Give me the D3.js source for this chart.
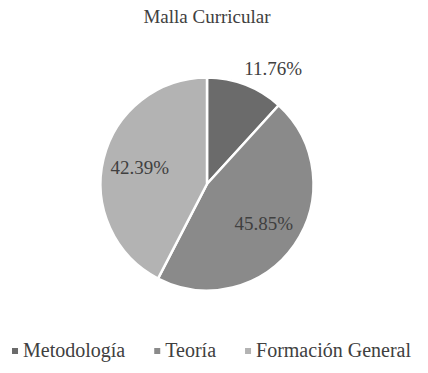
<!DOCTYPE html>
<html>
<head>
<meta charset="utf-8">
<script src="https://cdn.jsdelivr.net/npm/d3@7"></script>
</head>
<body style="margin:0;background:#fff">
<div id="chart"></div>
<script>
// Chart data
var title = "Malla Curricular";
var categories = ["Metodología", "Teoría", "Formación General"];
var values = [11.76, 45.85, 42.39];
var colors = ["#6b6b6b", "#8a8a8a", "#b3b3b3"];

var width = 428, height = 373;
var cx = 207, cy = 184, radius = 106.5;
var font = "'Liberation Serif', 'Times New Roman', serif";

document.fonts.ready.then(draw);

function draw() {
    var svg = d3.select("#chart").append("svg")
        .attr("width", width)
        .attr("height", height)
        .style("font-family", font);

    // title
    svg.append("text")
        .attr("x", 207)
        .attr("y", 23)
        .attr("text-anchor", "middle")
        .style("font-family", font)
        .attr("font-size", 19)
        .attr("fill", "#404040")
        .text(title);

    var pie = d3.pie().sort(null)(values);
    var arc = d3.arc().innerRadius(0).outerRadius(radius);
    var labelArc = d3.arc().innerRadius(radius * 0.65).outerRadius(radius * 0.65);

    var g = svg.append("g").attr("transform", "translate(" + cx + "," + cy + ")");

    g.selectAll("path")
        .data(pie)
        .enter().append("path")
        .attr("d", arc)
        .attr("fill", (d, i) => colors[i])
        .attr("stroke", "#fff")
        .attr("stroke-width", 2.5);

    // data labels: small slice gets label outside
    g.selectAll("text.lbl")
        .data(pie)
        .enter().append("text")
        .attr("class", "lbl")
        .attr("transform", d => {
            var c;
            if (d.data < 20) {
                var a = (d.startAngle + d.endAngle) / 2;
                c = [Math.sin(a) * radius * 1.15 + 22, -Math.cos(a) * radius * 1.15 - 1];
            } else {
                c = labelArc.centroid(d);
            }
            return "translate(" + c[0] + "," + c[1] + ")";
        })
        .attr("text-anchor", "middle")
        .attr("dy", "0.35em")
        .style("font-family", font)
        .attr("font-size", 19)
        .attr("fill", "#404040")
        .text(d => d.data.toFixed(2) + "%");

    // legend
    var legend = svg.append("g");
    var x = 0, gap = 29;
    categories.forEach((c, i) => {
        var item = legend.append("g").attr("transform", "translate(" + x + ",0)");
        item.append("rect")
            .attr("x", 0).attr("y", -9)
            .attr("width", 6).attr("height", 6)
            .attr("fill", colors[i]);
        var t = item.append("text")
            .attr("x", 11)
            .attr("y", 0)
            .style("font-family", font)
            .attr("font-size", 20)
            .attr("fill", "#404040")
            .text(c);
        x += 11 + t.node().getComputedTextLength() + gap;
    });
    x -= gap;
    legend.attr("transform", "translate(" + (211.5 - x / 2) + ",357)");
}
</script>
</body>
</html>
